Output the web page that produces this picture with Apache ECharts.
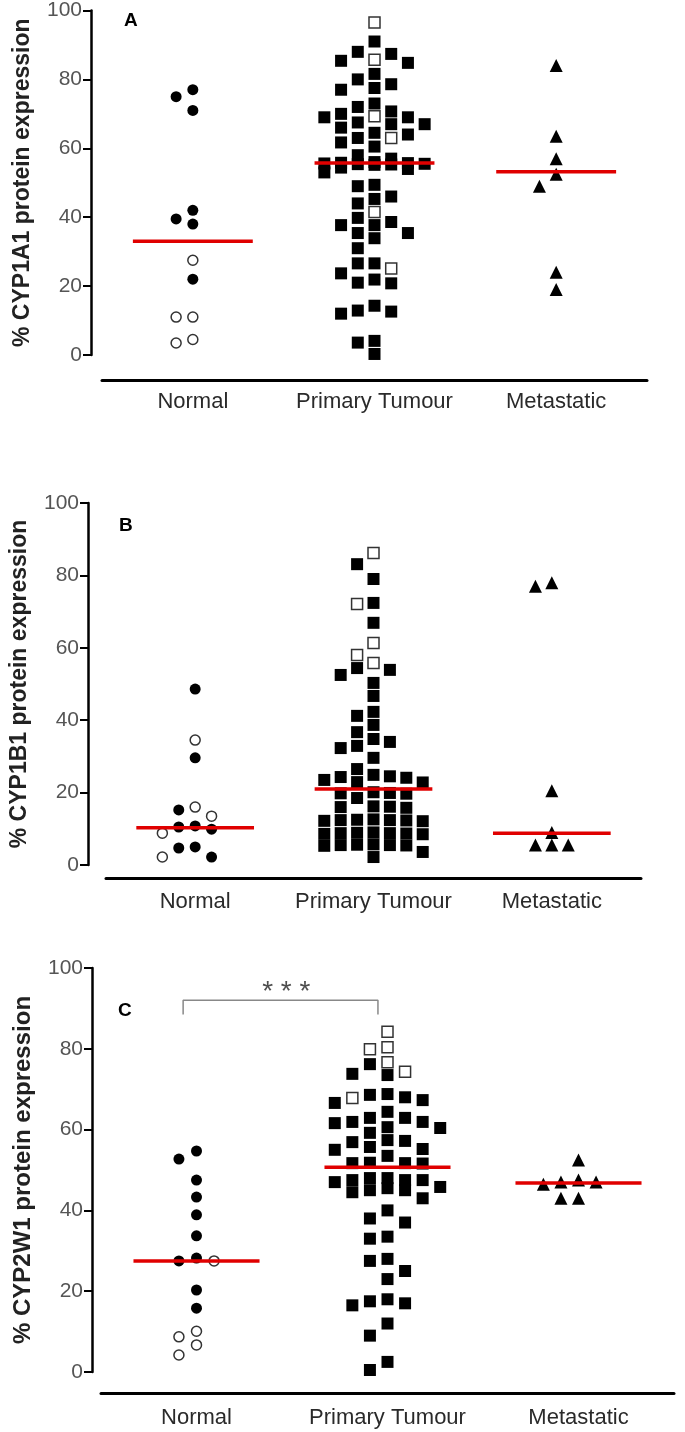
<!DOCTYPE html>
<html>
<head>
<meta charset="utf-8">
<script src="https://cdn.jsdelivr.net/npm/echarts@6/dist/echarts.min.js"></script>
<style>
  html, body { margin: 0; padding: 0; background: #fff; }
  #chart { width: 685px; height: 1432px; }
</style>
</head>
<body>
<div id="chart"></div>
<script>
var groups = ['Normal', 'Primary Tumour', 'Metastatic'];
var yNames = ['% CYP1A1 protein expression', '% CYP1B1 protein expression', '% CYP2W1 protein expression'];
var letters = ['A', 'B', 'C'];

// A - CYP1A1
var aNormalFilled = [77, 75, 71, 42, 39.5, 38, 22];
var aNormalOpen = [27.5, 11, 11, 4.5, 3.5];
var aTumourFilled = [91, 87.4, 88, 85.4, 84.8, 81.6, 80, 78.6, 77, 77.5, 73, 72, 70.7, 67, 69, 66, 70, 67, 64, 61.7,
  67.5, 69, 63, 64.5, 60.5, 58, 57, 56, 55.3, 55.6, 55.4, 55.8, 55.5, 55.2, 55.7, 53, 54, 54.4, 49, 49.4, 46, 44, 45.3,
  37.7, 39.8, 35.4, 38.6, 33.9, 35.4, 37.7, 31, 26.6, 26.6, 21.9, 20.8, 21, 23.7, 14.3, 12.6, 12, 12.9, 4.1, 3.6, 0.3];
var aTumourOpen = [96.5, 85.7, 69.3, 63, 41.5, 25.1];
var aMet = [84, 63.5, 57, 52.5, 49, 24, 19];
var aMedians = [33, 55.7, 53.2];

// B - CYP1B1
var bNormalFilled = [48.6, 29.6, 15.2, 10.8, 9.9, 10.5, 4.7, 2.2, 5];
var bNormalOpen = [34.5, 16, 13.5, 8.8, 2.2];
var bTumourFilled = [83.1, 79, 72.4, 66.9, 53.9, 52.5, 54.4, 50.3, 46.7, 42.3, 38.7, 41.2, 36.7, 34, 32.3, 34.8, 32.9,
  29.6, 26.5, 24.3, 24.1, 24.5, 24.9, 23.5, 22.9, 22.8, 19.9, 19.7, 20.1, 19.8, 18.5, 16, 16.2, 15.8, 16.1,
  12.4, 12.2, 12.5, 12.3, 12.6, 12.1, 12.4, 8.8, 8.9, 8.6, 8.7, 9, 8.8, 8.5, 5.5, 5.6, 5.3, 5.4, 5.7, 5.5, 2.2, 3.6];
var bTumourOpen = [86.2, 72.1, 61.3, 58, 55.8];
var bMet = [78, 77, 20.5, 9, 5.5, 5.5, 5.5];
var bMedians = [10.3, 21, 8.8];

// C - CYP2W1
var cNormalFilled = [54.7, 52.7, 47.5, 43.3, 38.9, 33.7, 28.2, 27.5, 20.3, 15.8];
var cNormalOpen = [27.5, 10.1, 8.7, 6.7, 4.2];
var cTumourFilled = [76.2, 73.5, 73.8, 68.6, 66.6, 67.3, 68, 68.8, 64.4, 62.9, 62.9, 61.9, 60.6, 60.4, 61.6, 61.9, 59.2,
  57.2, 55.7, 55, 53.5, 55.2, 56.9, 57.4, 51.7, 51.6, 51.8, 51.7, 48, 47.5, 47, 47.5, 48, 47.5, 45, 45.5, 44.5, 45, 45.8,
  43, 40, 38, 37, 33.5, 33, 28, 27.5, 25, 23, 18, 17, 16.5, 17.5, 12, 9, 2.5, 0.5];
var cTumourOpen = [84.2, 80.4, 79.9, 76.7, 74.3, 67.8];
var cMet = [52.5, 47.5, 47, 46.5, 47, 43, 43];
var cMedians = [27.5, 50.7, 46.8];

var panels = [
  { normal: [aNormalFilled, aNormalOpen], tumour: [aTumourFilled, aTumourOpen], met: aMet, med: aMedians,
    left: 102, width: 545, top: 10, height: 345, yOff: 11, xOff: 25, gap: 3.6, labelGap: 11,
    nameSize: 23, letter: [124, 11] },
  { normal: [bNormalFilled, bNormalOpen], tumour: [bTumourFilled, bTumourOpen], met: bMet, med: bMedians,
    left: 104, width: 537, top: 503, height: 362, yOff: 18, xOff: 13, gap: 3.4, labelGap: 13,
    nameSize: 23, letter: [119, 516] },
  { normal: [cNormalFilled, cNormalOpen], tumour: [cTumourFilled, cTumourOpen], met: cMet, med: cMedians,
    left: 101, width: 573, top: 968, height: 404, yOff: 9, xOff: 21, gap: 3.1, labelGap: 14,
    nameSize: 24, letter: [118, 1001] }
];

var slotW = 0.092;
var maxSlot = 3;

// beeswarm: nearest free column, at most 7 columns wide
function swarm(items, gap) {
  var cols = {};
  items.slice().sort(function (p, q) { return q.v - p.v; }).forEach(function (d) {
    var best = 0, bestDist = -1, chosen = null;
    for (var k = 0; k <= maxSlot * 2; k++) {
      var s = k === 0 ? 0 : (k % 2 ? -Math.ceil(k / 2) : Math.ceil(k / 2));
      var col = cols[s] || (cols[s] = []);
      var dist = col.reduce(function (m, u) { return Math.min(m, Math.abs(u - d.v)); }, Infinity);
      if (dist >= gap) { chosen = s; break; }
      if (dist > bestDist) { bestDist = dist; best = s; }
    }
    if (chosen === null) chosen = best;
    cols[chosen].push(d.v);
    d.slot = chosen;
  });
  return items;
}

function groupItems(cat, filled, open, gap) {
  var items = filled.map(function (v) { return { v: v, open: false }; })
    .concat((open || []).map(function (v) { return { v: v, open: true }; }));
  swarm(items, gap);
  return {
    filled: items.filter(function (d) { return !d.open; }).map(function (d) { return [cat + d.slot * slotW, d.v]; }),
    open: items.filter(function (d) { return d.open; }).map(function (d) { return [cat + d.slot * slotW, d.v]; })
  };
}

var grid = [], xAxis = [], yAxis = [], series = [], graphic = [];
var symbols = ['circle', 'rect', 'triangle'];
var sizes = [11, 12, 13];

panels.forEach(function (p, i) {
  grid.push({ left: p.left, width: p.width, top: p.top, height: p.height });
  xAxis.push({
    type: 'category', gridIndex: i, data: groups, offset: p.xOff, position: 'bottom',
    axisLine: { onZero: false, lineStyle: { color: '#000', width: 3 } },
    axisTick: { alignWithLabel: true, length: 8, lineStyle: { color: '#000', width: 2.5 } },
    axisLabel: { interval: 0, hideOverlap: false, color: '#2a2a2a', fontSize: 22,
      fontFamily: 'Liberation Sans, Arial, sans-serif', margin: p.labelGap },
    splitLine: { show: false }
  });
  xAxis.push({ type: 'value', gridIndex: i, min: -0.5, max: 2.5, show: false, position: 'bottom',
    axisLine: { onZero: false } });
  yAxis.push({
    type: 'value', gridIndex: i, min: 0, max: 100, interval: 20, offset: p.yOff,
    name: yNames[i], nameLocation: 'middle', nameRotate: 90, nameGap: 57,
    nameTextStyle: { fontSize: p.nameSize, fontWeight: 'bold', color: '#222', fontFamily: 'Liberation Sans, Arial, sans-serif' },
    axisLine: { show: true, onZero: false, lineStyle: { color: '#000', width: 2.5 } },
    axisTick: { show: true, length: 8, lineStyle: { color: '#000', width: 2 } },
    axisLabel: { color: '#555', fontSize: 21, fontFamily: 'Liberation Sans, Arial, sans-serif', margin: 9 },
    splitLine: { show: false }
  });

  var sets = [groupItems(0, p.normal[0], p.normal[1], p.gap),
              groupItems(1, p.tumour[0], p.tumour[1], p.gap),
              groupItems(2, p.met, [], p.gap)];
  sets.forEach(function (s, c) {
    series.push({
      type: 'scatter', xAxisIndex: i * 2 + 1, yAxisIndex: i, symbol: symbols[c], symbolSize: sizes[c],
      itemStyle: { color: '#000', opacity: 1 }, data: s.filled, z: 2, silent: true
    });
    if (s.open.length) series.push({
      type: 'scatter', xAxisIndex: i * 2 + 1, yAxisIndex: i, symbol: symbols[c], symbolSize: sizes[c] - 1,
      itemStyle: { color: '#fff', borderColor: '#333', borderWidth: 1.5, opacity: 1 }, data: s.open, z: 3, silent: true
    });
    series.push({
      type: 'line', xAxisIndex: i * 2 + 1, yAxisIndex: i, symbol: 'none', z: 5, silent: true,
      lineStyle: { color: '#e00000', width: 3.5 },
      data: [[c - 0.33, p.med[c]], [c + 0.33, p.med[c]]]
    });
  });

  graphic.push({
    type: 'text', left: p.letter[0], top: p.letter[1],
    style: { text: letters[i], font: 'bold 19px "Liberation Sans", Arial, sans-serif', fill: '#000' }
  });
});

// significance bracket, panel C
series.push({
  type: 'line', xAxisIndex: 5, yAxisIndex: 2, symbol: 'none', silent: true,
  lineStyle: { color: '#888', width: 1.5 },
  data: [[-0.07, 88.5], [-0.07, 92], [0.95, 92], [0.95, 88.5]]
});
series.push({
  type: 'scatter', xAxisIndex: 5, yAxisIndex: 2, symbolSize: 0, silent: true,
  data: [[0.47, 92]],
  label: { show: true, position: 'top', distance: -6, formatter: '* * *', fontSize: 28, color: '#222',
    fontFamily: 'Liberation Sans, Arial, sans-serif' }
});

var chart = echarts.init(document.getElementById('chart'));
chart.setOption({
  animation: false,
  backgroundColor: '#fff',
  grid: grid, xAxis: xAxis, yAxis: yAxis, series: series, graphic: graphic
});
</script>
</body>
</html>
